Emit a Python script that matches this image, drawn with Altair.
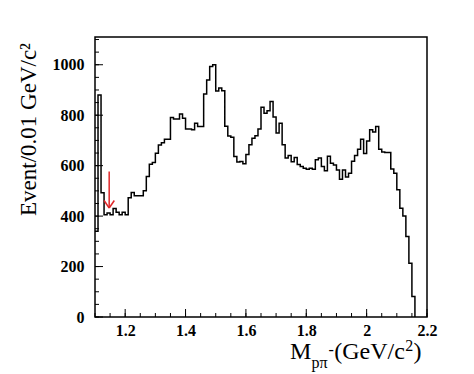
import altair as alt
import pandas as pd

# ---- data (events per 0.01 GeV/c^2 bin, starting at 1.10) ----
counts = [
    340, 880, 493, 405, 412, 405, 430, 415, 405, 415,
    405, 473, 494, 481, 481, 481, 500, 557, 606, 612,
    649, 682, 691, 705, 705, 791, 785, 785, 805, 788,
    745, 745, 742, 768, 755, 755, 884, 940, 993, 1000,
    896, 908, 897, 756, 718, 713, 636, 614, 616, 608,
    644, 683, 709, 719, 745, 832, 808, 818, 854, 793,
    729, 768, 683, 630, 640, 615, 632, 605, 597, 590,
    586, 590, 586, 623, 630, 597, 580, 637, 610, 603,
    583, 546, 583, 555, 570, 617, 640, 665, 705, 648,
    698, 742, 733, 755, 665, 654, 652, 652, 587, 570,
    504, 431, 400, 319, 213, 81,
]
x_start = 1.10
bin_width = 0.01

x_labels = [1.2, 1.4, 1.6, 1.8, 2.0, 2.2]
x_minor = [1.10, 1.15, 1.20, 1.25, 1.30, 1.35, 1.40, 1.45, 1.50, 1.55, 1.60, 1.65,
           1.70, 1.75, 1.80, 1.85, 1.90, 1.95, 2.00, 2.05, 2.10, 2.15, 2.20]
y_labels = [0, 200, 400, 600, 800, 1000]
y_minor = [0, 50, 100, 150, 200, 250, 300, 350, 400, 450, 500, 550,
           600, 650, 700, 750, 800, 850, 900, 950, 1000, 1050, 1100]

# red arrow (mass position, start value, tip value, head half-width, head base value)
arrow_x = 1.147
arrow_top = 577
arrow_tip = 432
arrow_head_dx = 0.017
arrow_head_y = 462

# ---- layout ----
W, H = 332, 280
FONT = "Liberation Serif"

edges = [round(x_start + bin_width * i, 2) for i in range(len(counts) + 1)]
hist = pd.DataFrame({"m": edges, "n": counts + [0]})

xscale = alt.Scale(domain=[1.1, 2.2], nice=False, zero=False)
yscale = alt.Scale(domain=[0, 1110], nice=False, zero=True)

xaxis = alt.Axis(values=x_labels, format=".2~f", labelFont=FONT, labelFontWeight="bold",
                 labelFontSize=16, labelColor="black", ticks=False, domain=False,
                 grid=False, title=None, labelPadding=5, labelFlush=False)
yaxis = alt.Axis(values=y_labels, format="d", labelFont=FONT, labelFontWeight="bold",
                 labelFontSize=16, labelColor="black", ticks=False, domain=False,
                 grid=False, title=None, labelPadding=11)

hist_line = alt.Chart(hist).mark_line(
    interpolate="step-after", color="black", strokeWidth=1.5
).encode(
    x=alt.X("m:Q", scale=xscale, axis=xaxis),
    y=alt.Y("n:Q", scale=yscale, axis=yaxis),
)


def xticks(vals, length):
    return alt.Chart(pd.DataFrame({"t": vals})).mark_rule(color="black", strokeWidth=1).encode(
        x=alt.X("t:Q", scale=xscale, axis=xaxis),
        y=alt.value(H), y2=alt.value(H - length),
    )


def yticks(vals, length):
    return alt.Chart(pd.DataFrame({"t": vals})).mark_rule(color="black", strokeWidth=1).encode(
        y=alt.Y("t:Q", scale=yscale, axis=yaxis),
        x=alt.value(0), x2=alt.value(length),
    )


arrow_df = pd.DataFrame({
    "x": [arrow_x, arrow_x - arrow_head_dx, arrow_x + arrow_head_dx],
    "x2": [arrow_x, arrow_x, arrow_x],
    "y": [arrow_top, arrow_head_y, arrow_head_y],
    "y2": [arrow_tip, arrow_tip, arrow_tip],
})
arrow = alt.Chart(arrow_df).mark_rule(color="#e0282a", strokeWidth=1.5).encode(
    x=alt.X("x:Q", scale=xscale, axis=xaxis), x2="x2:Q",
    y=alt.Y("y:Q", scale=yscale, axis=yaxis), y2="y2:Q",
)


def txt(s, x, y, size, align="left", angle=0):
    return alt.Chart(pd.DataFrame({"s": [s]})).mark_text(
        font=FONT, fontSize=size, color="black", align=align,
        baseline="alphabetic", angle=angle,
    ).encode(text="s:N", x=alt.value(x), y=alt.value(y))


# x title pieces: M_{p\pi^-}(GeV/c^2)  (plot-area pixel coordinates)
ox, oy = 95, 37
title_parts = [
    txt("M", 290 - ox, 359 - oy, 24),
    txt("pπ", 311.6 - ox, 368 - oy, 16),
    txt("-", 328.6 - ox, 355 - oy, 16),
    txt("(GeV/c", 334.3 - ox, 359 - oy, 24),
    txt("2", 405.3 - ox, 351 - oy, 16),
    txt(")", 413.6 - ox, 359 - oy, 24),
]
ytitle = txt("Event/0.01 GeV/c²", 36 - ox, 43 - oy, 23, align="right", angle=270)

chart = alt.layer(
    hist_line,
    xticks(x_minor, 4), xticks(x_labels, 8),
    yticks(y_minor, 4), yticks(y_labels, 8),
    arrow, ytitle, *title_parts,
).properties(
    width=W, height=H,
    autosize=alt.AutoSizeParams(type="none"),
    padding={"left": 87, "top": 29, "right": 30, "bottom": 57},
    background="white",
).configure_view(stroke="black", strokeWidth=1.5)

chart.save("out.html", embed_options={"renderer": "svg", "actions": False})
